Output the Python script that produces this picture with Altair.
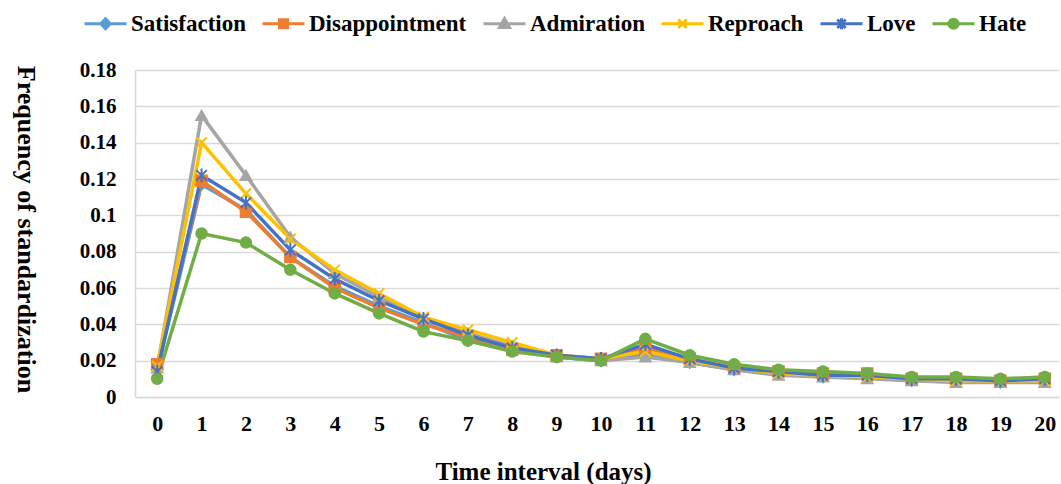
import altair as alt
import pandas as pd

days = list(range(21))
series_names = ["Satisfaction", "Disappointment", "Admiration", "Reproach", "Love", "Hate"]

satisfaction = [0.015, 0.117, 0.103, 0.077, 0.061, 0.050, 0.041, 0.031, 0.026, 0.022, 0.020,
                0.024, 0.019, 0.015, 0.013, 0.011, 0.011, 0.009, 0.009, 0.008, 0.009]
disappointment = [0.018, 0.119, 0.102, 0.077, 0.060, 0.049, 0.040, 0.033, 0.026, 0.023, 0.021,
                  0.027, 0.021, 0.016, 0.014, 0.013, 0.013, 0.010, 0.010, 0.009, 0.010]
admiration = [0.016, 0.155, 0.122, 0.088, 0.068, 0.055, 0.043, 0.035, 0.028, 0.022, 0.020,
              0.022, 0.019, 0.015, 0.012, 0.011, 0.010, 0.009, 0.008, 0.008, 0.008]
reproach = [0.017, 0.140, 0.112, 0.087, 0.070, 0.057, 0.044, 0.037, 0.030, 0.023, 0.021,
            0.025, 0.020, 0.016, 0.013, 0.012, 0.011, 0.010, 0.009, 0.009, 0.009]
love = [0.014, 0.122, 0.107, 0.081, 0.065, 0.053, 0.043, 0.034, 0.027, 0.023, 0.021,
        0.029, 0.021, 0.016, 0.014, 0.012, 0.012, 0.010, 0.010, 0.009, 0.010]
hate = [0.010, 0.090, 0.085, 0.070, 0.057, 0.046, 0.036, 0.031, 0.025, 0.022, 0.020,
        0.032, 0.023, 0.018, 0.015, 0.014, 0.013, 0.011, 0.011, 0.010, 0.011]

y_ticks = [0, 0.02, 0.04, 0.06, 0.08, 0.1, 0.12, 0.14, 0.16, 0.18]

colors = ["#5B9BD5", "#ED7D31", "#A5A5A5", "#FFC000", "#4472C4", "#70AD47"]

plot_shapes = [
    "diamond",
    "square",
    "triangle-up",
    "M-1,-1L1,1M-1,1L1,-1",
    "M-1,-1L1,1M-1,1L1,-1M0,-1.3L0,1.3",
    "circle",
]
legend_shapes = [
    "M-1,0L1,0M0,-0.24L0.22,0L0,0.24L-0.22,0Z",
    "M-1,0L1,0M-0.19,-0.19L0.19,-0.19L0.19,0.19L-0.19,0.19Z",
    "M-1,0L1,0M0,-0.25L0.24,0.18L-0.24,0.18Z",
    "M-1,0L1,0M-0.2,-0.2L0.2,0.2M-0.2,0.2L0.2,-0.2",
    "M-1,0L1,0M-0.2,-0.2L0.2,0.2M-0.2,0.2L0.2,-0.2M0,-0.26L0,0.26",
    "M-1,0L1,0M0.22,0A0.22,0.22,0,1,1,-0.22,0A0.22,0.22,0,1,1,0.22,0Z",
]

rows = []
for name, vals in zip(series_names, [satisfaction, disappointment, admiration, reproach, love, hate]):
    for d, v in zip(days, vals):
        rows.append({"day": d, "series": name, "value": v})
df = pd.DataFrame(rows)

FONT = "Liberation Serif"
color_scale = alt.Scale(domain=series_names, range=colors)

x_enc = alt.X(
    "day:Q",
    title="Time interval (days)",
    scale=alt.Scale(domain=[-0.5, 20.32], nice=False, zero=False),
    axis=alt.Axis(
        values=days, format="d", grid=False, ticks=False, labelAngle=0,
        domainColor="#d9d9d9", domainWidth=1.5,
        labelFont=FONT, labelFontSize=22, labelFontWeight="bold", labelColor="#000000",
        labelPadding=16, labelFlush=False, labelOverlap=False,
        titleFont=FONT, titleFontSize=25, titleFontWeight="bold", titleColor="#000000",
        titleX=408, titleY=74, titleBaseline="middle", titleAlign="center",
    ),
)
y_enc = alt.Y(
    "value:Q",
    title="Frequency of standardization",
    scale=alt.Scale(domain=[0, 0.18], nice=False),
    axis=alt.Axis(
        values=y_ticks, labelExpr="datum.value == 0 ? '0' : format(datum.value, '.2~f')",
        grid=True, gridColor="#d9d9d9", gridWidth=1.5, ticks=False,
        domainColor="#d9d9d9", domainWidth=1.5,
        labelFont=FONT, labelFontSize=21, labelFontWeight="bold", labelColor="#000000",
        labelPadding=19,
        titleFont=FONT, titleFontSize=26, titleFontWeight="bold", titleColor="#000000",
        titleAngle=90, titleX=-110, titleY=159, titleBaseline="middle", titleAlign="center",
    ),
)

lines = alt.Chart(df).mark_line(strokeWidth=3.5).encode(
    x=x_enc, y=y_enc,
    color=alt.Color("series:N", scale=color_scale, legend=None),
    detail="series:N",
)

points = alt.Chart(df).mark_point(filled=True, size=110, opacity=1, strokeWidth=2).encode(
    x=x_enc, y=y_enc,
    fill=alt.Fill("series:N", scale=color_scale, legend=None),
    stroke=alt.Stroke("series:N", scale=color_scale, legend=None),
    shape=alt.Shape("series:N", scale=alt.Scale(domain=series_names, range=plot_shapes), legend=None),
)

leg = alt.Legend(
    title=None, labelFont=FONT, labelFontSize=23, labelFontWeight="bold", labelColor="#000000",
    labelOffset=3, columnPadding=10, labelLimit=400,
)
legend_layer = alt.Chart(df).transform_filter("datum.value < 0").mark_point(
    filled=True, opacity=1
).encode(
    x=x_enc, y=y_enc,
    fill=alt.Fill("series:N", scale=color_scale, legend=leg),
    stroke=alt.Stroke("series:N", scale=color_scale, legend=leg),
    shape=alt.Shape("series:N", scale=alt.Scale(domain=series_names, range=legend_shapes), legend=leg),
)

chart = alt.layer(lines, points, legend_layer).resolve_scale(
    color="independent", fill="independent", stroke="independent", shape="independent"
).properties(
    width=924, height=327,
    padding={"left": 135, "top": 70, "right": 2, "bottom": 87},
    autosize=alt.AutoSizeParams(type="none"),
    background="#ffffff",
).configure_view(
    stroke=None
).configure_legend(
    orient="none", legendX=-52, legendY=-69, direction="horizontal",
    symbolSize=1764, symbolStrokeWidth=3, symbolOpacity=1,
    labelFont=FONT, labelFontSize=23, labelFontWeight="bold", labelColor="#000000",
    labelOffset=3, columnPadding=10, labelLimit=400, padding=0,
)

chart.save("out.html", embed_options={"renderer": "svg", "actions": False})
